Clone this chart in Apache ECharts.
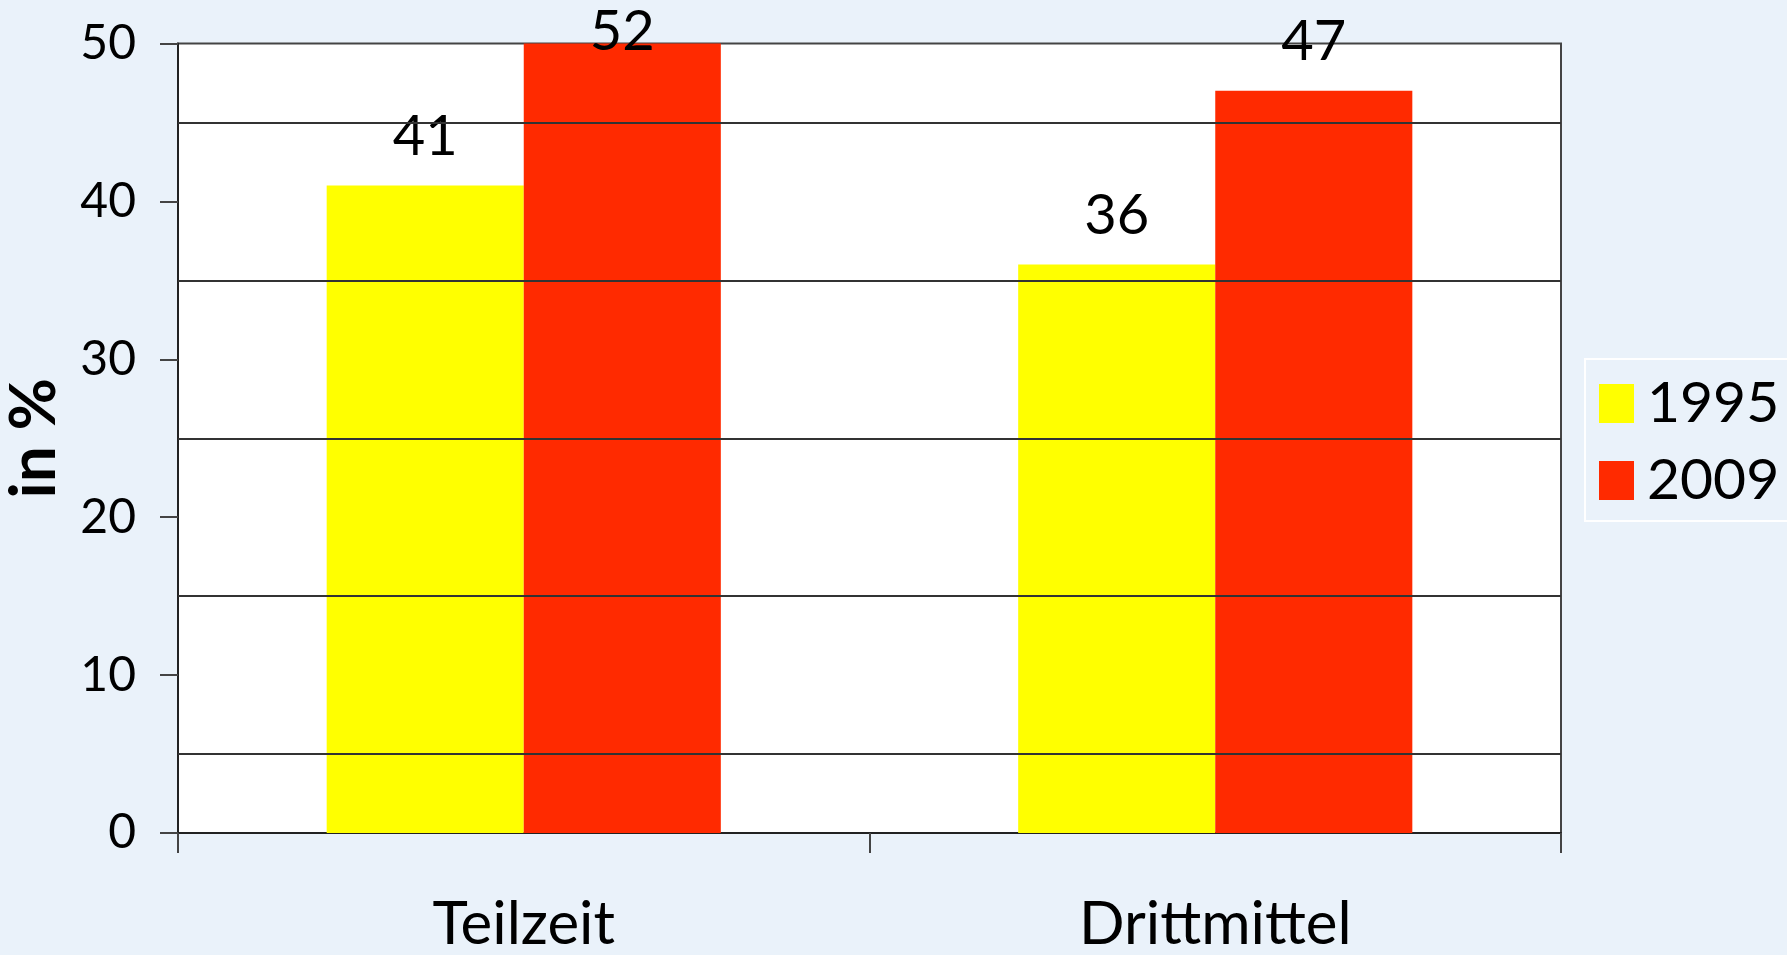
<!DOCTYPE html>
<html>
<head>
  <meta charset="utf-8">
  <script src="https://cdn.jsdelivr.net/npm/echarts@6.0.0/dist/echarts.min.js"></script>
  <style>
    body {
      margin: 0;
      padding: 0;
      background-color: #eaf2fa;
    }
    #main {
      width: 1787px;
      height: 955px;
    }
  </style>
  <title>Teilzeit und Drittmittel</title>
</head>
<body>
<div id="main"></div>
<script>
  // data
  var categories = ['Teilzeit', 'Drittmittel'];
  var seriesNames = ['1995', '2009'];
  var values1995 = [41, 36];
  var values2009 = [52, 47];
  var yTicks = [0, 10, 20, 30, 40, 50];
  var minorLines = [5, 15, 25, 35, 45];

  var fontFamily = 'Lato, "Open Sans", sans-serif';
  var yMax = yTicks[yTicks.length - 1];

  var myChart = echarts.init(document.getElementById('main'), null, { renderer: 'canvas' });

  var barLabel = {
    show: true,
    position: 'top',
    distance: 21,
    fontSize: 56,
    color: '#000',
    fontFamily: fontFamily
  };

  // a bar taller than the axis gets clipped; its label then sits on the bar top
  function barData(values) {
    return values.map(function (v) {
      if (v > yMax) {
        return { value: v, label: { position: 'insideTop', distance: -40 } };
      }
      return v;
    });
  }

  myChart.setOption({
    backgroundColor: '#eaf2fa',
    animation: false,
    textStyle: { fontFamily: fontFamily },
    grid: {
      left: 178,
      right: 226,
      top: 43.5,
      bottom: 122,
      outerBoundsMode: 'none',
      containLabel: false,
      show: true,
      backgroundColor: '#ffffff',
      borderColor: '#444',
      borderWidth: 2
    },
    legend: {
      data: seriesNames,
      orient: 'vertical',
      left: 1585,
      top: 359,
      icon: 'rect',
      itemWidth: 35,
      itemHeight: 39,
      itemGap: 20,
      padding: [16, 40, 12, 14],
      borderColor: '#ffffff',
      borderWidth: 2,
      textStyle: {
        fontSize: 57,
        color: '#000',
        fontFamily: fontFamily,
        padding: [0, 0, 0, 8]
      }
    },
    xAxis: {
      type: 'category',
      data: categories,
      axisLine: { show: true, lineStyle: { color: '#222', width: 2 } },
      axisTick: { show: true, length: 20, lineStyle: { color: '#444', width: 2 } },
      axisLabel: { fontSize: 60, color: '#000', margin: 62, fontFamily: fontFamily },
      splitLine: { show: false }
    },
    yAxis: {
      type: 'value',
      min: yTicks[0],
      max: yMax,
      interval: 10,
      name: 'in %',
      nameLocation: 'middle',
      nameGap: 112,
      nameTextStyle: { fontSize: 64, fontWeight: 'bold', color: '#000', fontFamily: fontFamily },
      axisLine: { show: true, lineStyle: { color: '#222', width: 2 } },
      axisTick: { show: true, length: 18, lineStyle: { color: '#444', width: 2 } },
      axisLabel: { fontSize: 48, color: '#000', margin: 42, fontFamily: fontFamily },
      splitLine: { show: false }
    },
    series: [
      {
        // carrier for the offset grid lines, drawn under the bars
        name: 'grid',
        type: 'line',
        data: [],
        z: 1,
        silent: true,
        markLine: {
          silent: true,
          symbol: 'none',
          label: { show: false },
          lineStyle: { color: '#333', width: 2, type: 'solid' },
          data: minorLines.map(function (v) { return { yAxis: v }; })
        }
      },
      {
        name: seriesNames[0],
        type: 'bar',
        z: 3,
        barWidth: '28.5%',
        barGap: '0%',
        itemStyle: { color: '#ffff00' },
        label: barLabel,
        data: barData(values1995)
      },
      {
        name: seriesNames[1],
        type: 'bar',
        z: 3,
        barWidth: '28.5%',
        barGap: '0%',
        itemStyle: { color: '#ff2a00' },
        label: barLabel,
        data: barData(values2009)
      }
    ]
  });
</script>
</body>
</html>
